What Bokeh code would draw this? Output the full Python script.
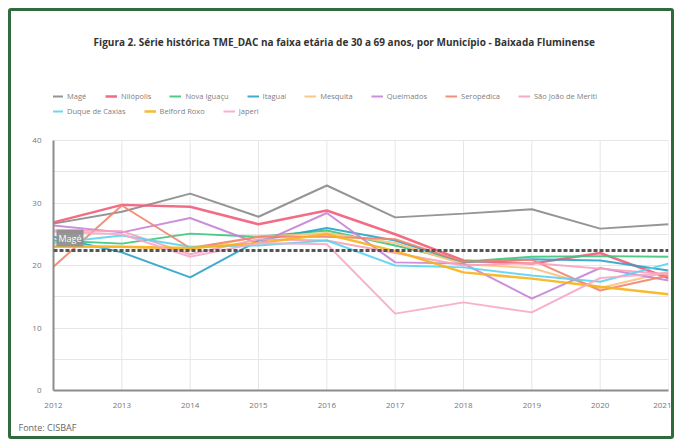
from bokeh.plotting import figure
from bokeh.models import (Range1d, FixedTicker, Legend, LegendItem, Label, Span,
                          ColumnDataSource, Title)
from bokeh.embed import file_html
from bokeh.resources import INLINE

years = [2012, 2013, 2014, 2015, 2016, 2017, 2018, 2019, 2020, 2021]
mage = [26.7, 28.6, 31.5, 27.8, 32.8, 27.7, 28.3, 29.0, 25.9, 26.6]
nilopolis = [26.9, 29.7, 29.4, 26.6, 28.8, 25.0, 20.8, 20.3, 22.0, 18.0]
nova_iguacu = [24.0, 23.5, 25.1, 24.6, 25.6, 23.2, 20.6, 21.4, 21.5, 21.4]
itaguai = [24.6, 22.1, 18.1, 24.0, 26.0, 24.0, 20.5, 21.0, 20.8, 19.2]
mesquita = [23.2, 23.0, 22.5, 24.6, 25.2, 23.6, 20.2, 19.6, 16.4, 19.0]
queimados = [26.4, 25.3, 27.6, 23.5, 28.4, 20.5, 20.3, 14.7, 19.6, 17.6]
seropedica = [19.8, 29.6, 22.8, 24.6, 24.6, 24.2, 20.6, 20.9, 16.0, 18.4]
sao_joao = [25.6, 25.5, 21.8, 24.2, 24.0, 22.0, 20.0, 20.4, 19.5, 18.6]
duque = [23.6, 24.8, 23.0, 23.2, 24.0, 20.0, 19.7, 18.4, 17.4, 20.3]
belford = [23.0, 23.0, 22.8, 23.6, 25.0, 22.3, 18.9, 17.9, 16.6, 15.4]
japeri = [25.4, 25.0, 21.4, 23.6, 23.4, 12.3, 14.1, 12.5, 18.0, 18.8]
media = 22.4

names = ["Magé", "Nilópolis", "Nova Iguaçu", "Itaguaí", "Mesquita", "Queimados",
         "Seropédica", "São João de Meriti", "Duque de Caxias", "Belford Roxo", "Japeri"]
series = [mage, nilopolis, nova_iguacu, itaguai, mesquita, queimados,
          seropedica, sao_joao, duque, belford, japeri]
colors = ["#8a8a8a", "#f25c78", "#3cc47c", "#2aa3c9", "#f9c27e", "#c683d6",
          "#f2846b", "#f7a1b8", "#5cd3ef", "#f7b21b", "#f6a9c9"]
widths = [2, 2.5, 2, 2, 2, 2, 2, 2, 2, 2.5, 2]
y_ticks = [0, 10, 20, 30, 40]
grid_ticks = [0, 5, 10, 15, 20, 25, 30, 35, 40]

FONT = "Open Sans"

# frame: page x 53..662, y 22..390 ; 40 units = 250 px
Y_TOP = 40 + (140 - 22) / 6.25

p = figure(width=666, height=431, output_backend="svg", toolbar_location=None,
           x_range=Range1d(2012, 2021), y_range=Range1d(0, Y_TOP),
           min_border_left=42, min_border_right=9, min_border_top=11, min_border_bottom=46)
p.styles = {"border": "3px solid #2f6b3c", "border-radius": "3px", "margin": "8px"}
p.background_fill_color = "#ffffff"
p.border_fill_color = "#ffffff"
p.outline_line_color = None

p.xaxis.ticker = FixedTicker(ticks=years)
p.yaxis.ticker = FixedTicker(ticks=y_ticks)
p.yaxis.bounds = (y_ticks[0], y_ticks[-1])
p.ygrid.ticker = FixedTicker(ticks=grid_ticks)
p.ygrid.grid_line_color = "#e6e6e6"
p.xgrid.visible = False
p.segment(x0=years, y0=[y_ticks[0]] * len(years), x1=years, y1=[y_ticks[-1]] * len(years),
          line_color="#e6e6e6", line_width=1)
for ax in (p.xaxis, p.yaxis):
    ax.axis_line_color = "#8c8c8c"
    ax.axis_line_width = 2
    ax.major_tick_line_color = None
    ax.minor_tick_line_color = None
    ax.major_label_text_font = FONT
    ax.major_label_text_font_size = "8px"
    ax.major_label_text_color = "#777777"
p.xaxis.major_label_standoff = 6
p.yaxis.major_label_standoff = 6

renderers = []
for name, ys, c, w in zip(names, series, colors, widths):
    src = ColumnDataSource(dict(x=years, y=ys))
    r = p.line("x", "y", source=src, line_color=c, line_width=w, line_alpha=0.9)
    renderers.append((name, r))

p.add_layout(Span(location=media, dimension="width", line_color="#555555",
                  line_width=3, line_dash="4 2"))

p.add_layout(Label(x=2012, y=24.4, text="Magé", x_offset=3, text_baseline="middle",
                   text_font=FONT, text_font_size="9px", text_color="#ffffff",
                   background_fill_color="#8c8c8c", background_fill_alpha=0.9,
                   padding=2))

row1 = [LegendItem(label=n, renderers=[r]) for n, r in renderers[:8]]
row2 = [LegendItem(label=n, renderers=[r]) for n, r in renderers[8:]]
for items, bottom in ((row1, 289), (row2, 274)):
    lg = Legend(items=items, orientation="horizontal", location=(-2, bottom),
                glyph_width=12, glyph_height=10, label_standoff=4, spacing=18,
                padding=0, margin=0, border_line_color=None,
                background_fill_alpha=0,
                label_text_font=FONT, label_text_font_size="7.5px",
                label_text_color="#808080", label_height=10)
    p.add_layout(lg, "center")

p.add_layout(Label(x=292, y=349, x_units="screen", y_units="screen",
                   text="Figura 2. Série histórica TME_DAC na faixa etária de 30 a 69 anos, por  Município - Baixada Fluminense",
                   text_align="center", text_baseline="middle", text_font=FONT,
                   text_font_size="10px", text_font_style="bold", text_color="#333333"))
p.add_layout(Title(text="Fonte: CISBAF", align="left", offset=-35, text_font=FONT,
                   text_font_size="9px", text_font_style="normal", text_color="#666666",
                   standoff=17), "below")

open("out.html", "w").write(file_html(p, INLINE))
